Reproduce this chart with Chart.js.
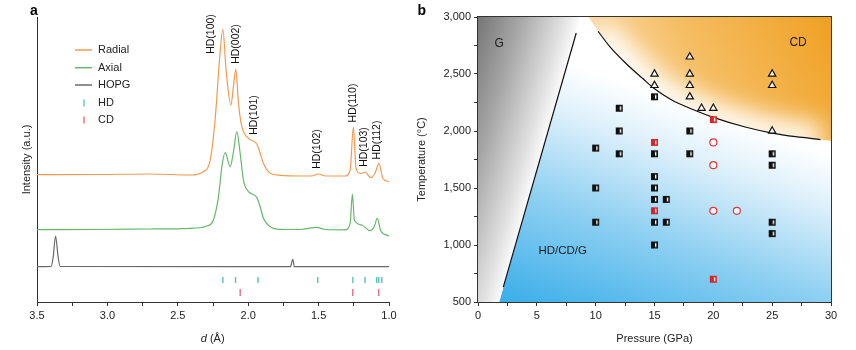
<!DOCTYPE html>
<html>
<head>
<meta charset="utf-8">
<script src="https://cdn.jsdelivr.net/npm/chart.js@4.4.1/dist/chart.umd.min.js"></script>
<style>
  body { margin: 0; background: #fff; }
  #wrap { position: relative; width: 856px; height: 350px; }
  #boxA { position: absolute; left: 0; top: 0; }
  #boxB { position: absolute; left: 405px; top: 0; }
</style>
</head>
<body>
<div id="wrap">
  <div id="boxA"><canvas id="chartA" width="405" height="350"></canvas></div>
  <div id="boxB"><canvas id="chartB" width="451" height="350"></canvas></div>
</div>
<script>
// ---------- panel a: diffraction patterns (d in Å, intensity a.u.) ----------
const radialD = [3.5, 3.05, 2.7, 2.41, 2.32, 2.27, 2.235, 2.204, 2.18, 2.157, 2.123, 2.105, 2.088, 2.069, 2.045, 1.998, 1.939, 1.915, 1.892, 1.844, 1.773, 1.631, 1.55, 1.501, 1.45, 1.312, 1.276, 1.253, 1.234, 1.2, 1.17, 1.13, 1.099, 1.071, 1.044, 1.0];
const radialI = [127.3, 127.5, 128, 127, 130.3, 142, 182, 242, 272.7, 232, 197, 215.3, 232.7, 198.7, 175.3, 163.7, 158, 148.7, 138.7, 128.7, 126.7, 126, 126, 128, 126, 126, 132, 174.7, 133.7, 128.5, 130, 124.3, 129, 138.7, 123.7, 120.3];

const axialD = [3.5, 3.05, 2.7, 2.41, 2.293, 2.247, 2.211, 2.187, 2.164, 2.128, 2.105, 2.081, 2.057, 2.034, 1.998, 1.939, 1.915, 1.892, 1.844, 1.773, 1.631, 1.513, 1.454, 1.312, 1.276, 1.26, 1.246, 1.193, 1.135, 1.106, 1.083, 1.059, 1.0];
const axialI = [72.3, 72.5, 73, 73.7, 76, 82, 105.3, 135.3, 149.3, 135.3, 150, 170.3, 148.7, 122, 110.3, 104.7, 95.3, 83.7, 75.3, 72.7, 72.5, 74.7, 72.5, 72.2, 78.7, 108, 82, 77, 71.3, 75, 83.7, 71.3, 66];

const hopgD = [3.5, 3.4, 3.385, 3.368, 3.35, 3.335, 1.70, 1.683, 1.672, 1.0];
const hopgI = [35.3, 35.5, 45, 66, 45, 35.5, 35.3, 42.7, 35.3, 35.3];

const hdTickD = [2.18, 2.09, 1.93, 1.506, 1.257, 1.17, 1.087, 1.073, 1.051];
const cdTickD = [2.057, 1.257, 1.073];
const hdTickRow = 22;
const cdTickRow = 9.5;

const peakLabels = ['HD(100)', 'HD(002)', 'HD(101)', 'HD(102)', 'HD(110)', 'HD(103)', 'HD(112)'];
const peakLabelD = [2.265, 2.086, 1.958, 1.509, 1.257, 1.175, 1.087];
const peakLabelI = [268, 258, 187, 153, 199, 155, 162];

// ---------- panel b: P-T diagram ----------
const sqP = [10, 10, 10, 12, 12, 12, 15, 15, 15, 15, 15, 15, 15, 16, 16, 18, 18, 25, 25, 25, 25];
const sqT = [1850, 1500, 1200, 2200, 2000, 1800, 2300, 1800, 1600, 1500, 1400, 1200, 1000, 1400, 1200, 2000, 1800, 1800, 1700, 1200, 1100];
const redSqP = [15, 15, 20, 20];
const redSqT = [1900, 1300, 2100, 700];
const redCircP = [20, 20, 20, 22];
const redCircT = [1900, 1700, 1300, 1300];
const triP = [15, 15, 18, 18, 18, 18, 19, 20, 25, 25, 25];
const triT = [2500, 2400, 2650, 2500, 2400, 2300, 2200, 2200, 2500, 2400, 2000];

const cdCurveP = [10.2, 11.2, 12.6, 14.0, 15.0, 16.5, 18.0, 20.0, 22.7, 25.0, 27.0, 29.1];
const cdCurveT = [2875, 2740, 2590, 2460, 2370, 2270, 2200, 2120, 2035, 1982, 1950, 1925];
const gLineP = [2.15, 8.35];
const gLineT = [630, 2860];

const grayRegion = [[0, 500], [1.8, 500], [8.7, 3000], [0, 3000]];
const regionTexts = ['G', 'CD', 'HD/CD/G'];
const regionTextP = [1.8, 27.2, 7.2];
const regionTextT = [2770, 2778, 950];

const FONT = '"Liberation Sans", Arial, sans-serif';
Chart.defaults.font.family = FONT;
Chart.defaults.font.size = 11;
Chart.defaults.color = '#222';

const orange = '#f39a4f';
const green = '#67b86a';
const grayLine = '#6a6a6a';
const hdColor = '#4dbfb0';
const cdColor = '#e2627a';

const zip = (xs, ys) => xs.map((v, i) => ({ x: v, y: ys[i] }));
const near = (v, step) => Math.abs(v / step - Math.round(v / step)) < 1e-6;

// legend for panel a
const legendItems = [
  { text: 'Radial', kind: 'line', color: orange },
  { text: 'Axial', kind: 'line', color: green },
  { text: 'HOPG', kind: 'line', color: grayLine },
  { text: 'HD', kind: 'tick', color: hdColor },
  { text: 'CD', kind: 'tick', color: cdColor }
];

const panelADecor = {
  id: 'panelADecor',
  afterDatasetsDraw(chart) {
    const { ctx, scales: { x, y } } = chart;
    ctx.save();
    ctx.fillStyle = '#111';
    ctx.font = '10.5px ' + FONT;
    ctx.textAlign = 'center';
    ctx.textBaseline = 'middle';
    peakLabels.forEach((t, i) => {
      ctx.save();
      ctx.translate(x.getPixelForValue(peakLabelD[i]), y.getPixelForValue(peakLabelI[i]));
      ctx.rotate(-Math.PI / 2);
      ctx.fillText(t, 0, 0);
      ctx.restore();
    });

    // legend
    const rows = [50, 67.7, 85, 103, 120];
    ctx.font = '11px ' + FONT;
    ctx.textAlign = 'left';
    legendItems.forEach((it, i) => {
      const yy = rows[i];
      ctx.strokeStyle = it.color;
      ctx.lineWidth = it.kind === 'line' ? 1.5 : 1.3;
      ctx.beginPath();
      if (it.kind === 'line') {
        ctx.moveTo(75, yy);
        ctx.lineTo(92, yy);
      } else {
        ctx.moveTo(84, yy - 3.5);
        ctx.lineTo(84, yy + 3.5);
      }
      ctx.stroke();
      ctx.fillStyle = '#222';
      ctx.fillText(it.text, 98, yy);
    });

    // x title: italic d (Å)
    ctx.fillStyle = '#222';
    ctx.font = 'italic 11px ' + FONT;
    const w1 = ctx.measureText('d').width;
    ctx.font = '11px ' + FONT;
    const w2 = ctx.measureText(' (Å)').width;
    const x0 = 212.7 - (w1 + w2) / 2;
    ctx.font = 'italic 11px ' + FONT;
    ctx.fillText('d', x0, 339);
    ctx.font = '11px ' + FONT;
    ctx.fillText(' (Å)', x0 + w1, 339);

    // panel letter
    ctx.font = 'bold 14px ' + FONT;
    ctx.fillStyle = '#000';
    ctx.textAlign = 'center';
    ctx.fillText('a', 34, 11);
    ctx.restore();
  }
};

new Chart(document.getElementById('chartA'), {
  type: 'scatter',
  data: {
    datasets: [
      { label: 'HD', data: hdTickD.map(d => ({ x: d, y: hdTickRow })), showLine: false,
        pointStyle: 'line', rotation: 90, pointRadius: 3, borderColor: hdColor, pointBorderColor: hdColor, pointBorderWidth: 1.3 },
      { label: 'CD', data: cdTickD.map(d => ({ x: d, y: cdTickRow })), showLine: false,
        pointStyle: 'line', rotation: 90, pointRadius: 3.5, borderColor: cdColor, pointBorderColor: cdColor, pointBorderWidth: 1.3 },
      { label: 'Radial', data: zip(radialD, radialI), showLine: true, borderColor: orange, borderWidth: 1.2,
        pointRadius: 0, cubicInterpolationMode: 'monotone' },
      { label: 'Axial', data: zip(axialD, axialI), showLine: true, borderColor: green, borderWidth: 1.2,
        pointRadius: 0, cubicInterpolationMode: 'monotone' },
      { label: 'HOPG', data: zip(hopgD, hopgI), showLine: true, borderColor: grayLine, borderWidth: 1.2,
        pointRadius: 0, cubicInterpolationMode: 'monotone' }
    ]
  },
  options: {
    responsive: false,
    animation: false,
    events: [],
    layout: { padding: { top: 17, right: 16, left: 0, bottom: 0 } },
    plugins: { legend: { display: false }, tooltip: { enabled: false } },
    scales: {
      x: {
        type: 'linear', reverse: true, min: 1, max: 3.5,
        afterFit: s => { s.height = 48; },
        ticks: { stepSize: 0.25, autoSkip: false, maxRotation: 0, padding: 3,
          callback: v => near(v, 0.5) ? v.toFixed(1) : '' },
        grid: { drawOnChartArea: false, drawTicks: true, tickLength: 4, color: '#333' },
        border: { display: true, color: '#333', width: 1 }
      },
      y: {
        min: 0, max: 285,
        afterFit: s => { s.width = 37; },
        ticks: { display: false },
        grid: { display: false },
        border: { display: true, color: '#333', width: 1 },
        title: { display: true, text: 'Intensity (a.u.)', padding: { top: 20, bottom: 0 } }
      }
    }
  },
  plugins: [panelADecor]
});

// ---------- panel b ----------
function halfSquare(color) {
  const c = document.createElement('canvas');
  c.width = 9; c.height = 9;
  const g = c.getContext('2d');
  g.fillStyle = '#fff';
  g.fillRect(1, 1, 7, 7);
  g.fillStyle = color;
  g.fillRect(1, 1, 4, 7);
  g.strokeStyle = color;
  g.lineWidth = 1.6;
  g.strokeRect(1.8, 1.8, 5.4, 5.4);
  return c;
}

const panelBDecor = {
  id: 'panelBDecor',
  beforeDatasetsDraw(chart) {
    const { ctx, chartArea: a, scales: { x, y } } = chart;
    const px = (p, t) => [x.getPixelForValue(p), y.getPixelForValue(t)];
    const curve = cdCurveP.map((p, i) => px(p, cdCurveT[i]));
    const poly = pts => {
      ctx.beginPath();
      pts.forEach((q, i) => i ? ctx.lineTo(q[0], q[1]) : ctx.moveTo(q[0], q[1]));
      ctx.closePath();
    };
    ctx.save();
    ctx.beginPath();
    ctx.rect(a.left, a.top, a.width, a.height);
    ctx.clip();

    // blue region (HD/CD/G)
    const bluePts = [px(1.8, 500), px(30, 500), px(30, 1915)]
      .concat(curve.slice().reverse(), [px(9.4, 3000), px(8.7, 3000)]);
    const b0 = px(2.0, 500), b1 = px(9.0, 2550);
    const bg = ctx.createLinearGradient(b0[0], b0[1], b1[0], b1[1]);
    bg.addColorStop(0, '#3aaee9');
    bg.addColorStop(0.45, '#8fd0f2');
    bg.addColorStop(0.8, '#ddf0fb');
    bg.addColorStop(1, '#ffffff');
    poly(bluePts);
    ctx.fillStyle = bg;
    ctx.fill();

    // orange region (CD)
    const orPts = [px(9.4, 3000)].concat(curve, [px(30, 1915), px(30, 3000)]);
    const o0 = px(30, 3000), o1 = px(12, 1950);
    const og = ctx.createLinearGradient(o0[0], o0[1], o1[0], o1[1]);
    og.addColorStop(0, '#f0a022');
    og.addColorStop(0.55, '#f5bd62');
    og.addColorStop(1, '#fbe0b6');
    poly(orPts);
    ctx.fillStyle = og;
    ctx.fill();
    // white glow along the boundary
    ctx.save();
    poly(orPts);
    ctx.clip();
    ctx.filter = 'blur(12px)';
    ctx.strokeStyle = '#ffffff';
    ctx.lineWidth = 30;
    ctx.beginPath();
    curve.forEach((q, i) => i ? ctx.lineTo(q[0], q[1]) : ctx.moveTo(q[0], q[1]));
    ctx.stroke();
    ctx.restore();

    // gray region (G)
    const gPts = grayRegion.map(q => px(q[0], q[1]));
    const p0 = px(8.7, 3000), p1 = px(1.8, 500);
    const dx = p0[0] - p1[0], dy = p0[1] - p1[1];
    const len = Math.hypot(dx, dy);
    const nx = dy / len, ny = -dx / len;
    const gg = ctx.createLinearGradient(p0[0] + nx * 105, p0[1] + ny * 105, p0[0], p0[1]);
    gg.addColorStop(0, '#6e6e6e');
    gg.addColorStop(0.45, '#a6a6a6');
    gg.addColorStop(0.85, '#e1e1e1');
    gg.addColorStop(1, '#fafafa');
    poly(gPts);
    ctx.fillStyle = gg;
    ctx.fill();
    ctx.restore();
  },
  afterDatasetsDraw(chart) {
    const { ctx, chartArea: a, scales: { x, y } } = chart;
    ctx.save();
    ctx.strokeStyle = '#333';
    ctx.lineWidth = 1;
    ctx.strokeRect(Math.round(a.left) - 0.5, Math.round(a.top) - 0.5, Math.round(a.width) + 1, Math.round(a.height) + 1);
    ctx.fillStyle = '#1a1a1a';
    ctx.textAlign = 'center';
    ctx.textBaseline = 'middle';
    regionTexts.forEach((t, i) => {
      ctx.font = (i === 2 ? '11.5px ' : '12px ') + FONT;
      ctx.fillText(t, x.getPixelForValue(regionTextP[i]), y.getPixelForValue(regionTextT[i]));
    });
    ctx.font = 'bold 14px ' + FONT;
    ctx.fillStyle = '#000';
    ctx.fillText('b', 16.7, 11);
    ctx.restore();
  }
};

new Chart(document.getElementById('chartB'), {
  type: 'scatter',
  data: {
    datasets: [
      { label: 'HD/CD/G', data: zip(sqP, sqT), pointStyle: halfSquare('#111'), pointRadius: 4 },
      { label: 'HD/CD/G (red)', data: zip(redSqP, redSqT), pointStyle: halfSquare('#d8262a'), pointRadius: 4 },
      { label: 'circle', data: zip(redCircP, redCircT), pointStyle: 'circle', pointRadius: 3.5,
        pointBorderColor: '#e03a3a', pointBackgroundColor: 'rgba(255,255,255,0.7)', pointBorderWidth: 1.2 },
      { label: 'CD', data: zip(triP, triT), pointStyle: 'triangle', pointRadius: 4.2,
        pointBorderColor: '#111', pointBackgroundColor: 'rgba(255,255,255,0.85)', pointBorderWidth: 1.2 },
      { label: 'CD boundary', data: zip(cdCurveP, cdCurveT), showLine: true, borderColor: '#111', borderWidth: 1.2,
        pointRadius: 0, cubicInterpolationMode: 'monotone' },
      { label: 'G boundary', data: zip(gLineP, gLineT), showLine: true, borderColor: '#111', borderWidth: 1.2,
        pointRadius: 0 }
    ]
  },
  options: {
    responsive: false,
    animation: false,
    events: [],
    layout: { padding: { top: 17, right: 25, left: 0, bottom: 0 } },
    plugins: { legend: { display: false }, tooltip: { enabled: false } },
    scales: {
      x: {
        type: 'linear', min: 0, max: 30,
        afterFit: s => { s.height = 48; },
        ticks: { stepSize: 2.5, autoSkip: false, maxRotation: 0, padding: 3,
          callback: v => near(v, 5) ? String(v) : '' },
        grid: { drawOnChartArea: false, drawTicks: true, tickLength: 4, color: '#333' },
        border: { display: false },
        title: { display: true, text: 'Pressure (GPa)', padding: { top: 0, bottom: 4 } }
      },
      y: {
        min: 500, max: 3000,
        afterFit: s => { s.width = 73; },
        ticks: { stepSize: 250, autoSkip: false, padding: 3,
          callback: v => near(v, 500) ? v.toLocaleString('en-US') : '' },
        grid: { drawOnChartArea: false, drawTicks: true, tickLength: 4, color: '#333' },
        border: { display: false },
        title: { display: true, text: 'Temperature (°C)', padding: { top: 10, bottom: 0 } }
      }
    }
  },
  plugins: [panelBDecor]
});
</script>
</body>
</html>
